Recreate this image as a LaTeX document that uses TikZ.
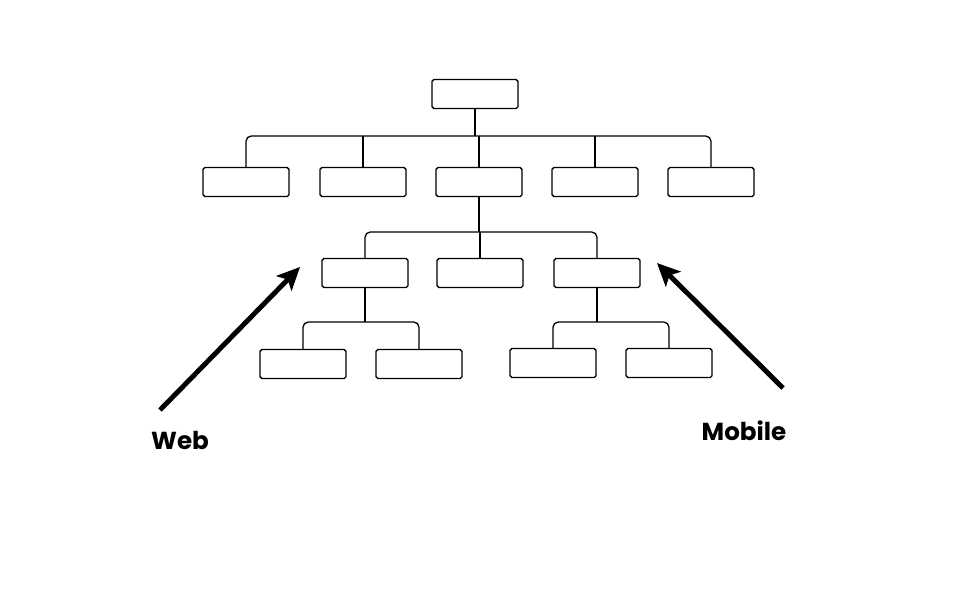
\documentclass[tikz,border=0pt]{standalone}
\usepackage{fontspec}
\setmainfont{Poppins}
\usetikzlibrary{arrows.meta}
\begin{document}
\begin{tikzpicture}[x=0.02cm,y=-0.02cm,
  orgbox/.style={draw=black, line width=0.8pt, rounded corners=1pt, minimum width=1.72cm, minimum height=0.58cm, inner sep=0pt, fill=white},
  conn/.style={draw=black, line width=0.75pt, rounded corners=3pt},
  bigarrow/.style={line width=2.8pt, -{Stealth[length=13pt,width=12pt,inset=3pt]}},
  lbl/.style={font=\fontsize{14}{16}\selectfont\bfseries, text=black, inner sep=0pt}]
\useasboundingbox (0,0) rectangle (960,600);
% nodes
\node[orgbox] (top) at (475,94) {};
\node[orgbox] (r21) at (246,182) {};
\node[orgbox] (r22) at (363,182) {};
\node[orgbox] (r23) at (479,182) {};
\node[orgbox] (r24) at (595,182) {};
\node[orgbox] (r25) at (711,182) {};
\node[orgbox] (r31) at (365,273) {};
\node[orgbox] (r32) at (480,273) {};
\node[orgbox] (r33) at (597,273) {};
\node[orgbox] (r41) at (303,364) {};
\node[orgbox] (r42) at (419,364) {};
\node[orgbox] (r43) at (553,363) {};
\node[orgbox] (r44) at (669,363) {};
% bus levels
\coordinate (bus1) at (0,136);
\coordinate (bus2) at (0,232);
\coordinate (bus3) at (0,322);
% level 1 -> 2
\draw[conn] (r21.north) -- (r21.north |- bus1) -- (r25.north |- bus1) -- (r25.north);
\draw[conn] (top.south) -- (top.south |- bus1);
\draw[conn] (r22.north) -- (r22.north |- bus1);
\draw[conn] (r23.north) -- (r23.north |- bus1);
\draw[conn] (r24.north) -- (r24.north |- bus1);
% level 2 -> 3
\draw[conn] (r31.north) -- (r31.north |- bus2) -- (r33.north |- bus2) -- (r33.north);
\draw[conn] (r23.south) -- (r23.south |- bus2);
\draw[conn] (r32.north) -- (r32.north |- bus2);
% level 3 -> 4
\draw[conn] (r41.north) -- (r41.north |- bus3) -- (r42.north |- bus3) -- (r42.north);
\draw[conn] (r31.south) -- (r31.south |- bus3);
\draw[conn] (r43.north) -- (r43.north |- bus3) -- (r44.north |- bus3) -- (r44.north);
\draw[conn] (r33.south) -- (r33.south |- bus3);
% labels and arrows
\node[lbl] (web) at (180,440) {Web};
\node[lbl] (mobile) at (744,431) {Mobile};
\coordinate (webtail) at (160,410);
\coordinate (webtip) at (300,267);
\coordinate (mobtail) at (783,388);
\coordinate (mobtip) at (657,263);
\draw[bigarrow] (webtail) -- (webtip);
\draw[bigarrow] (mobtail) -- (mobtip);
\end{tikzpicture}
\end{document}
